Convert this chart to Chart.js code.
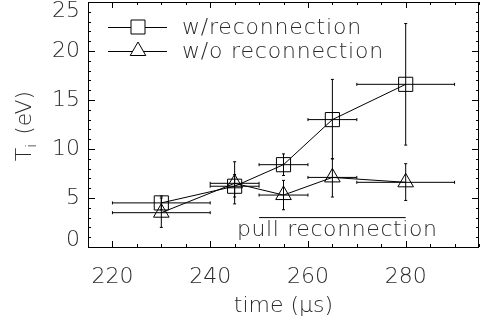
<!DOCTYPE html>
<html><head><meta charset="utf-8">
<script src="https://cdn.jsdelivr.net/npm/chart.js@4/dist/chart.umd.min.js"></script>
<style>html,body{margin:0;padding:0;background:#fff}canvas{display:block}</style>
</head><body>
<canvas id="c" width="480" height="326"></canvas>
<script>
// ---- data ----
const times = [230, 245, 255, 265, 280];
const timeLow = [220, 240, 250, 260, 270];
const timeHigh = [240, 250, 260, 270, 290];
const withRecon = [4.5, 6.2, 8.4, 13.0, 16.6];
const withReconLow = [3.8, 5.1, 7.3, 9.0, 10.4];
const withReconHigh = [5.2, 7.4, 9.5, 17.1, 22.8];
const withoutRecon = [3.5, 6.5, 5.3, 7.1, 6.6];
const withoutReconLow = [2.0, 4.4, 3.8, 5.1, 4.75];
const withoutReconHigh = [5.0, 8.7, 6.8, 9.0, 8.5];
const xTickValues = [220, 240, 260, 280];
const yTickValues = [0, 5, 10, 15, 20, 25];
const pullRange = [250, 280];
const pullLevel = 3.0;
const seriesNames = ['w/reconnection', 'w/o reconnection'];
const pullLabel = 'pull reconnection';

const FONT = 'DejaVu Sans';
const WEIGHT = '200';
const TXT = '#2a2a2a';
const F = (size) => WEIGHT + ' ' + size + 'px "' + FONT + '"';

const mk = (ys, lo, hi) => times.map((t, i) => ({x: t, y: ys[i], yMin: lo[i], yMax: hi[i], xMin: timeLow[i], xMax: timeHigh[i]}));

const noPad = s => { s.paddingTop = 0; s.paddingBottom = 0; s.paddingLeft = 0; s.paddingRight = 0; };

const overlay = {
  id: 'overlay',
  beforeDraw(chart) {
    const y = chart.scales.y;
    try {
      const items = y.getLabelItems(chart.chartArea);
      const a = chart.chartArea;
      items.forEach(it => {
        const ty = it.options.translation[1];
        it.options.translation[1] = Math.min(Math.max(ty, a.top + 9), a.bottom - 7);
      });
    } catch (e) {}
  },
  afterDatasetsDraw(chart) {
    const ctx = chart.ctx, xs = chart.scales.x, ys = chart.scales.y, a = chart.chartArea;
    ctx.save();
    ctx.strokeStyle = '#000';
    ctx.lineWidth = 1;
    // error bars
    chart.data.datasets.forEach(ds => {
      ds.data.forEach(p => {
        const px = xs.getPixelForValue(p.x), py = ys.getPixelForValue(p.y);
        const y1 = ys.getPixelForValue(p.yMin), y2 = ys.getPixelForValue(p.yMax);
        const x1 = xs.getPixelForValue(p.xMin), x2 = xs.getPixelForValue(p.xMax);
        ctx.beginPath();
        ctx.moveTo(px, y1); ctx.lineTo(px, y2);
        ctx.moveTo(px - 1.5, y1); ctx.lineTo(px + 1.5, y1);
        ctx.moveTo(px - 1.5, y2); ctx.lineTo(px + 1.5, y2);
        ctx.moveTo(x1, py); ctx.lineTo(x2, py);
        ctx.moveTo(x1, py - 1.5); ctx.lineTo(x1, py + 1.5);
        ctx.moveTo(x2, py - 1.5); ctx.lineTo(x2, py + 1.5);
        ctx.stroke();
      });
    });
    // pull reconnection bar
    const pl = ys.getPixelForValue(pullLevel);
    ctx.beginPath();
    ctx.moveTo(xs.getPixelForValue(pullRange[0]), pl);
    ctx.lineTo(xs.getPixelForValue(pullRange[1]), pl);
    ctx.stroke();
    ctx.fillStyle = TXT;
    ctx.font = F(22);
    try { ctx.letterSpacing = '0.6px'; } catch (e) {}
    ctx.textBaseline = 'middle';
    ctx.textAlign = 'left';
    ctx.fillText(pullLabel, 237, pl + 13);

    // frame
    ctx.strokeStyle = '#000';
    ctx.strokeRect(a.left + 0.5, a.top + 0.5, a.right - a.left - 1, a.bottom - a.top);
    // ticks
    ctx.beginPath();
    for (let v = 215; v <= 295; v += 5) {
      const px = Math.round(xs.getPixelForValue(v)) + 0.5;
      const L = (v % 20 === 0) ? 6 : 3;
      ctx.moveTo(px, a.bottom); ctx.lineTo(px, a.bottom - L);
      ctx.moveTo(px, a.top); ctx.lineTo(px, a.top + L);
    }
    for (let v = 0; v <= 25; v += 1) {
      const py = Math.round(ys.getPixelForValue(v)) + 0.5;
      const L = (v % 5 === 0) ? 7 : 3;
      ctx.moveTo(a.left, py); ctx.lineTo(a.left + L, py);
      ctx.moveTo(a.right, py); ctx.lineTo(a.right - L, py);
    }
    ctx.stroke();

    // legend
    const lx0 = a.left + 20, lx1 = a.left + 79, lmx = a.left + 50, tx = a.left + 94;
    const ly = [a.top + 25, a.top + 49];
    ctx.beginPath();
    ly.forEach(yy => { ctx.moveTo(lx0, yy + 0.5); ctx.lineTo(lx1, yy + 0.5); });
    ctx.stroke();
    ctx.beginPath();
    ctx.rect(lmx - 7, ly[0] - 7, 14, 14);
    const r = 9;
    ctx.moveTo(lmx, ly[1] - r);
    ctx.lineTo(lmx + r * 0.866, ly[1] + r * 0.5);
    ctx.lineTo(lmx - r * 0.866, ly[1] + r * 0.5);
    ctx.closePath();
    ctx.fillStyle = '#fff';
    ctx.fill();
    ctx.stroke();
    ctx.fillStyle = TXT;
    ctx.font = F(22);
    try { ctx.letterSpacing = '0.8px'; } catch (e) {}
    ctx.fillText(seriesNames[0], tx, ly[0] + 1);
    ctx.fillText(seriesNames[1], tx, ly[1] + 1);
    try { ctx.letterSpacing = '0px'; } catch (e) {}

    // y title with subscript
    ctx.translate(25, 126);
    ctx.rotate(-Math.PI / 2);
    ctx.textBaseline = 'middle';
    ctx.font = F(22);
    const wT = ctx.measureText('T').width;
    ctx.font = F(14);
    const wi = ctx.measureText('i').width;
    ctx.font = F(22);
    const rest = ' (eV)';
    const wr = ctx.measureText(rest).width;
    const total = wT + wi + 2 + wr;
    let cx = -total / 2;
    ctx.textAlign = 'left';
    ctx.fillText('T', cx, 0); cx += wT;
    ctx.font = F(14);
    ctx.fillText('i', cx, 7); cx += wi + 2;
    ctx.font = F(22);
    ctx.fillText(rest, cx, 0);
    ctx.restore();
  }
};

new Chart(document.getElementById('c'), {
  type: 'scatter',
  data: {
    datasets: [
      {label: seriesNames[0], data: mk(withRecon, withReconLow, withReconHigh), showLine: true,
       borderColor: '#000', borderWidth: 1, pointStyle: 'rect', pointRadius: 10,
       pointBackgroundColor: 'rgba(0,0,0,0)', pointBorderColor: '#000', pointBorderWidth: 1, tension: 0},
      {label: seriesNames[1], data: mk(withoutRecon, withoutReconLow, withoutReconHigh), showLine: true,
       borderColor: '#000', borderWidth: 1, pointStyle: 'triangle', pointRadius: 9,
       pointBackgroundColor: 'rgba(0,0,0,0)', pointBorderColor: '#000', pointBorderWidth: 1, tension: 0}
    ]
  },
  options: {
    responsive: false,
    animation: false,
    devicePixelRatio: 1,
    layout: {autoPadding: false, padding: {top: 2, right: 1, left: 0, bottom: 0}},
    plugins: {legend: {display: false}, tooltip: {enabled: false}},
    scales: {
      x: {
        type: 'linear', min: 215, max: 295,
        afterBuildTicks: s => { s.ticks = xTickValues.map(v => ({value: v})); },
        afterFit: s => { s.height = 79; noPad(s); },
        grid: {display: false, drawTicks: false},
        border: {display: false},
        ticks: {color: TXT, font: {family: FONT, size: 22, weight: WEIGHT}, padding: 17, maxRotation: 0},
        title: {display: true, text: 'time (μs)', color: TXT, font: {family: FONT, size: 22, weight: WEIGHT}, padding: {top: 0, bottom: 7}}
      },
      y: {
        type: 'linear', min: 0, max: 25,
        afterBuildTicks: s => { s.ticks = yTickValues.map(v => ({value: v})); },
        afterFit: s => { s.width = 88; noPad(s); },
        grid: {display: false, drawTicks: false},
        border: {display: false},
        ticks: {color: TXT, font: {family: FONT, size: 22, weight: WEIGHT}, padding: 8}
      }
    }
  },
  plugins: [overlay]
});
</script>
</body></html>
